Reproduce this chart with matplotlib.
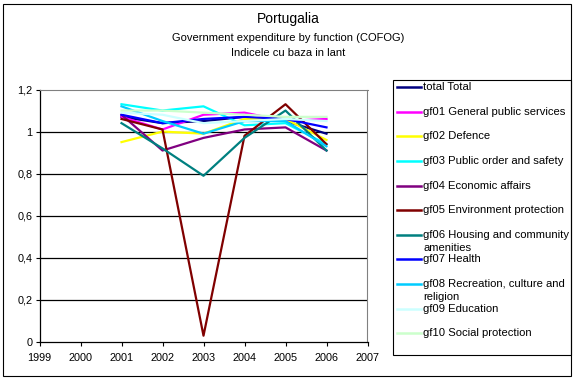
import matplotlib.pyplot as plt
from matplotlib.lines import Line2D
from matplotlib.patches import Rectangle

plt.rcParams["font.family"] = ["Liberation Sans", "DejaVu Sans"]

years = [2001, 2002, 2003, 2004, 2005, 2006]
labels = [
    "total Total",
    "gf01 General public services",
    "gf02 Defence",
    "gf03 Public order and safety",
    "gf04 Economic affairs",
    "gf05 Environment protection",
    "gf06 Housing and community\namenities",
    "gf07 Health",
    "gf08 Recreation, culture and\nreligion",
    "gf09 Education",
    "gf10 Social protection",
]
colors = ["#000080", "#FF00FF", "#FFFF00", "#00FFFF", "#800080", "#800000",
          "#008080", "#0000FF", "#00CCFF", "#CCFFFF", "#CCFFCC"]
values = [
    [1.07, 1.04, 1.05, 1.07, 1.05, 0.99],   # total
    [1.07, 1.01, 1.08, 1.09, 1.05, 1.06],   # gf01
    [0.95, 1.00, 0.99, 1.06, 1.06, 0.96],   # gf02
    [1.13, 1.10, 1.12, 1.03, 1.04, 0.94],   # gf03
    [1.08, 0.91, 0.97, 1.01, 1.02, 0.91],   # gf04
    [1.06, 1.01, 0.03, 0.98, 1.13, 0.94],   # gf05
    [1.04, 0.92, 0.79, 0.97, 1.10, 0.91],   # gf06
    [1.08, 1.04, 1.06, 1.07, 1.06, 1.02],   # gf07
    [1.12, 1.05, 0.99, 1.05, 1.05, 0.93],   # gf08
    [1.09, 1.08, 1.04, 1.05, 1.06, 1.05],   # gf09
    [1.10, 1.10, 1.09, 1.08, 1.07, 1.07],   # gf10
]
x_ticks = list(range(1999, 2008))
y_ticks = [0, 0.2, 0.4, 0.6, 0.8, 1.0, 1.2]
y_labels = ["0", "0,2", "0,4", "0,6", "0,8", "1", "1,2"]

W, H = 576, 380
fig = plt.figure(figsize=(W / 100, H / 100), dpi=100)

# outer chart border
fig.patches.append(Rectangle((3 / W, 4 / H), 568 / W, 372 / H, transform=fig.transFigure,
                             fill=False, edgecolor="black", lw=0.8))

ax = fig.add_axes([39.5 / W, (H - 342) / H, (367.5 - 39.5) / W, (342 - 89.5) / H])
for i in range(len(labels)):
    ax.plot(years, values[i], color=colors[i], lw=1.6, zorder=3 + i, clip_on=False)

ax.set_xlim(1999, 2007)
ax.set_ylim(0, 1.2)
ax.set_xticks(x_ticks, [str(v) for v in x_ticks])
ax.set_yticks(y_ticks, y_labels)
for yv in y_ticks[1:-1]:
    ax.axhline(yv, color="black", lw=0.9, zorder=1)
ax.tick_params(labelsize=7.8, length=3, width=0.8, pad=2, colors="black")
ax.tick_params(axis="x", pad=5)
for s in ["top", "right"]:
    ax.spines[s].set_color("#808080")
ax.spines["left"].set_linewidth(0.9)
ax.spines["bottom"].set_linewidth(0.9)

# titles
fig.text(288 / W, 1 - 19 / H, "Portugalia", ha="center", va="center", fontsize=10)
fig.text(288 / W, 1 - 38 / H, "Government expenditure by function (COFOG)",
         ha="center", va="center", fontsize=8)
fig.text(288 / W, 1 - 53 / H, "Indicele cu baza in lant", ha="center", va="center",
         fontsize=8)

# legend
fig.patches.append(Rectangle((393 / W, (H - 355) / H), (571 - 393) / W, (355 - 79.5) / H,
                             transform=fig.transFigure, fill=False, edgecolor="black",
                             lw=0.8))
row_y = [86.7, 111.7, 136, 161, 185.7, 210, 235, 259.3, 284, 308.7, 333.3]
for i, lab in enumerate(labels):
    y = row_y[i]
    fig.lines.append(Line2D([397 / W, 421 / W], [1 - y / H, 1 - y / H],
                            transform=fig.transFigure, color=colors[i], lw=1.8))
    for j, part in enumerate(lab.split("\n")):
        fig.text(423 / W, 1 - (y + 13 * j) / H, part, ha="left", va="center",
                 fontsize=8.1)

fig.savefig("out.png", dpi=100)
